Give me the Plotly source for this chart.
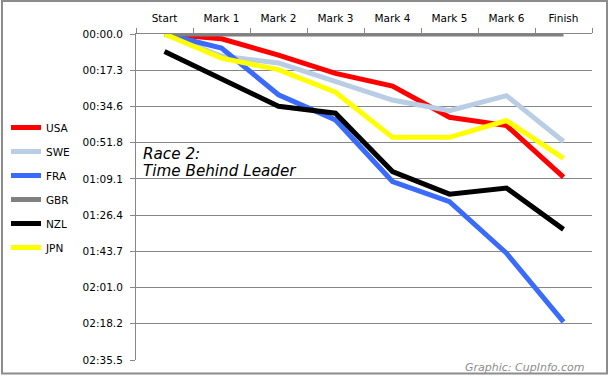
import plotly.graph_objects as go

categories = ["Start", "Mark 1", "Mark 2", "Mark 3", "Mark 4", "Mark 5", "Mark 6", "Finish"]

# seconds behind leader
usa = [0, 2.3, 10.1, 18.8, 24.8, 39.7, 43.7, 68.3]
swe = [0, 10.5, 13.8, 22.7, 31.5, 36.6, 29.4, 51.3]
fra = [0, 6.7, 29.0, 41.0, 70.4, 80.0, 104.6, 137.3]
gbr = [0, 0, 0, 0, 0, 0, 0, 0]
nzl = [8.3, 21.4, 34.5, 37.8, 65.6, 76.4, 73.5, 93.2]
jpn = [0, 11.5, 17.0, 27.8, 49.3, 49.3, 41.3, 59.3]

tick_vals = [0, 17.28, 34.56, 51.84, 69.12, 86.4, 103.68, 120.96, 138.24, 155.52]
tick_text = ["00:00.0", "00:17.3", "00:34.6", "00:51.8", "01:09.1",
             "01:26.4", "01:43.7", "02:01.0", "02:18.2", "02:35.5"]

series = [
    ("USA", usa, "#FF0000"),
    ("SWE", swe, "#B9CDE5"),
    ("FRA", fra, "#3A6BFA"),
    ("GBR", gbr, "#808080"),
    ("NZL", nzl, "#000000"),
    ("JPN", jpn, "#FFFF00"),
]

FONT = "DejaVu Sans"
GRID = "#868686"

fig = go.Figure()
for name, vals, color in series:
    fig.add_trace(go.Scatter(
        x=categories, y=vals, name=name, mode="lines",
        line=dict(color=color, width=5),
        legendgroup=name,
    ))

fig.update_layout(
    width=610, height=377, autosize=False,
    margin=dict(l=136, r=18, t=34, b=17, pad=0, autoexpand=False),
    paper_bgcolor="white", plot_bgcolor="white",
    font=dict(family=FONT, size=10.5, color="#000000"),
    showlegend=True,
    legend=dict(
        xref="container", yref="container",
        x=0.0098, xanchor="left", y=0.7003, yanchor="top",
        font=dict(family=FONT, size=10.5, color="#000000"),
        bgcolor="rgba(0,0,0,0)", borderwidth=0,
        tracegroupgap=5, traceorder="grouped",
    ),
    xaxis=dict(
        type="category", side="top", range=[-0.5, 7.5],
        showgrid=False, showline=True, linecolor=GRID, linewidth=1,
        ticks="outside", ticklen=5, tickcolor=GRID, tickson="boundaries",
        zeroline=False, ticklabelstandoff=7, automargin=False,
        tickfont=dict(family=FONT, size=10.5, color="#000000"),
    ),
    yaxis=dict(
        range=[155.52, 0], tickvals=tick_vals, ticktext=tick_text,
        showgrid=True, gridcolor=GRID, gridwidth=1,
        showline=True, linecolor=GRID, linewidth=1,
        ticks="outside", ticklen=5, tickcolor=GRID,
        zeroline=False, ticklabelstandoff=5, automargin=False,
        tickfont=dict(family=FONT, size=10.5, color="#000000"),
    ),
    shapes=[dict(
        type="rect", xref="paper", yref="paper",
        x0=-0.2939, x1=1.0329, y0=-0.0414, y1=1.1012,
        line=dict(color="#8C8C8C", width=2), fillcolor="rgba(0,0,0,0)",
        layer="above",
    )],
    annotations=[
        dict(text="<i>Race 2:</i>", xref="paper", yref="paper",
             x=0.011, y=0.632, xanchor="left", yanchor="middle", showarrow=False,
             font=dict(family=FONT, size=15.2, color="#000000")),
        dict(text="<i>Time Behind Leader</i>", xref="paper", yref="paper",
             x=0.011, y=0.580, xanchor="left", yanchor="middle", showarrow=False,
             font=dict(family=FONT, size=15.2, color="#000000")),
        dict(text="<i>Graphic: CupInfo.com</i>", xref="paper", yref="paper",
             x=0.989, y=-0.0236, xanchor="right", yanchor="middle", showarrow=False,
             font=dict(family=FONT, size=11, color="#8C8C8C")),
    ],
)

fig.write_html(
    "out.html",
    config={"displayModeBar": False},
    post_script="document.body.style.margin='0';document.body.style.overflow='hidden';",
)
